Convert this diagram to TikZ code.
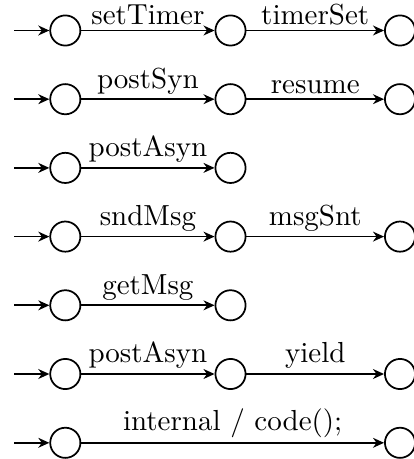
\documentclass[tikz,border=0pt]{standalone}
\usetikzlibrary{arrows.meta}
\begin{document}
\begin{tikzpicture}[x=0.3448pt,y=-0.3448pt,
  st/.style={circle,draw,line width=0.6pt,inner sep=0pt,minimum size=10.4pt},
  tr/.style={line width=0.6pt,-{Stealth[length=3.8pt,width=3.4pt,inset=1.2pt]}},
  lb/.style={above,inner sep=0pt,yshift=1.5pt}]
\useasboundingbox (0,0) rectangle (413,459);
% start points of the initial arrows
\foreach \r/\y in {1/30.5,2/99.2,3/167.9,4/236.6,5/305.3,6/374,7/442.8}{
  \coordinate (i\r) at (14,\y);
}
% row 1
\node[st] (a1) at (65.3,30.5) {};
\node[st] (b1) at (230.5,30.5) {};
\node[st] (c1) at (400,30.5) {};
% row 2
\node[st] (a2) at (65.3,99.2) {};
\node[st] (b2) at (230.5,99.2) {};
\node[st] (c2) at (400,99.2) {};
% row 3
\node[st] (a3) at (65.3,167.9) {};
\node[st] (b3) at (230.5,167.9) {};
% row 4
\node[st] (a4) at (65.3,236.6) {};
\node[st] (b4) at (230.5,236.6) {};
\node[st] (c4) at (400,236.6) {};
% row 5
\node[st] (a5) at (65.3,305.3) {};
\node[st] (b5) at (230.5,305.3) {};
% row 6
\node[st] (a6) at (65.3,374) {};
\node[st] (b6) at (230.5,374) {};
\node[st] (c6) at (400,374) {};
% row 7
\node[st] (a7) at (65.3,442.8) {};
\node[st] (c7) at (400,442.8) {};
% initial arrows
\foreach \r in {1,...,7}{ \draw[tr] (i\r) -- (a\r); }
% transitions
\draw[tr] (a1) -- node[lb]{setTimer} (b1);
\draw[tr] (b1) -- node[lb]{timerSet} (c1);
\draw[tr] (a2) -- node[lb]{postSyn} (b2);
\draw[tr] (b2) -- node[lb]{resume} (c2);
\draw[tr] (a3) -- node[lb]{postAsyn} (b3);
\draw[tr] (a4) -- node[lb]{sndMsg} (b4);
\draw[tr] (b4) -- node[lb]{msgSnt} (c4);
\draw[tr] (a5) -- node[lb]{getMsg} (b5);
\draw[tr] (a6) -- node[lb]{postAsyn} (b6);
\draw[tr] (b6) -- node[lb]{yield} (c6);
\draw[tr] (a7) -- node[lb]{internal / code();} (c7);
\end{tikzpicture}
\end{document}
